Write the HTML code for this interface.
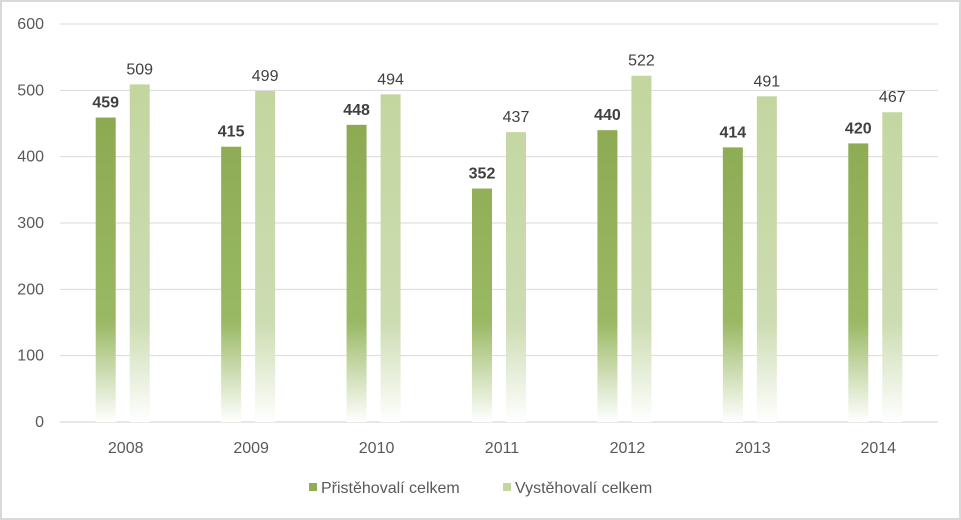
<!DOCTYPE html>
<html><head><meta charset="utf-8"><style>
body{margin:0;background:#fff;font-family:"Liberation Sans",sans-serif;}
#frame{position:absolute;left:0;top:0;width:957px;height:516px;border:2px solid #d9d9d9;}
</style></head><body>
<div id="frame"></div>
<svg id="chart" width="961" height="520" style="position:absolute;left:0;top:0">
<defs>
<linearGradient id="gDark" gradientUnits="userSpaceOnUse" x1="0" y1="24" x2="0" y2="422">
<stop offset="0" stop-color="#86a34a"/><stop offset="0.75" stop-color="#9ab964"/><stop offset="1" stop-color="#ffffff"/></linearGradient>
<linearGradient id="gLight" gradientUnits="userSpaceOnUse" x1="0" y1="24" x2="0" y2="422">
<stop offset="0" stop-color="#c0d49a"/><stop offset="0.75" stop-color="#cddcb2"/><stop offset="1" stop-color="#ffffff"/></linearGradient>
</defs>
</svg>
<script>
const categories=["2008","2009","2010","2011","2012","2013","2014"];
const immigrants=[459,415,448,352,440,414,420];
const emigrants=[509,499,494,437,522,491,467];
const yTicks=[0,100,200,300,400,500,600];
const seriesNames=["Přistěhovalí celkem","Vystěhovalí celkem"];
const svg=document.getElementById('chart');
const NS='http://www.w3.org/2000/svg';
const L=60,R=938,T=24,B=422,yMax=600;
const y=v=>B-(B-T)*v/yMax;
const bw=(R-L)/categories.length;
const xc=i=>L+bw*(i+0.5);
function mk(tag,attrs,txt){const e=document.createElementNS(NS,tag);for(const k in attrs)e.setAttribute(k,attrs[k]);if(txt!==undefined)e.textContent=txt;svg.appendChild(e);return e;}
yTicks.forEach(t=>{
const g=mk('line',{x1:L,x2:R,y1:y(t),y2:y(t),stroke:t===0?'#d0d0d0':'#d9d9d9','stroke-width':1});


const lb=mk('text',{x:44,y:y(t)+5,'text-anchor':'end','font-size':16,fill:'#595959'},t);


});
categories.forEach((c,i)=>{
const cx=xc(i);
const r1=mk('rect',{x:cx-27,y:y(immigrants[i]),width:20,height:B-y(immigrants[i]),fill:'url(#gDark)'});


const r2=mk('rect',{x:cx+7,y:y(emigrants[i]),width:20,height:B-y(emigrants[i]),fill:'url(#gLight)'});


const l1=mk('text',{x:cx-17,y:y(immigrants[i])-10,'text-anchor':'middle','font-size':16,'font-weight':'bold',fill:'#404040'},immigrants[i]);


const l2=mk('text',{x:cx+17,y:y(emigrants[i])-10,'text-anchor':'middle','font-size':16,fill:'#404040'},emigrants[i]);


const xl=mk('text',{x:cx+3,y:453,'text-anchor':'middle','font-size':16,fill:'#595959'},c);


});
const lg=[[309,'#8fac56'],[503,'#c4d6a0']];
lg.forEach((p,i)=>{
const s=mk('rect',{x:p[0],y:483,width:8,height:8,fill:p[1]});


const t=mk('text',{x:p[0]+12,y:493,'font-size':16,fill:'#595959'},seriesNames[i]);


});
</script>
</body></html>
